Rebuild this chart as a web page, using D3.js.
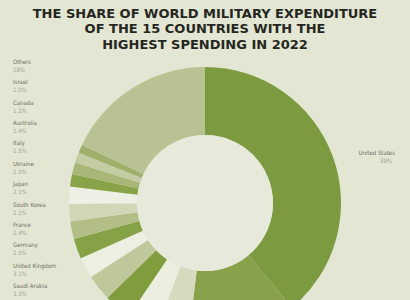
<!DOCTYPE html>
<html>
<head>
<meta charset="utf-8">
<script src="https://cdn.jsdelivr.net/npm/d3@7"></script>
<style>
  body { margin: 0; background: #e3e6d3; }
  svg { display: block; }
</style>
</head>
<body>
<div id="chart"></div>
<script>
// SIPRI 2022 shares, clockwise from 12 o'clock
const countries = ["United States", "China", "Russia", "India", "Saudi Arabia", "United Kingdom",
  "Germany", "France", "South Korea", "Japan", "Ukraine", "Italy", "Australia", "Canada", "Israel", "Others"];
const shares = [39, 13, 3.9, 3.6, 3.3, 3.1, 2.5, 2.4, 2.1, 2.1, 2.0, 1.5, 1.4, 1.2, 1.0, 18];
const shareLabels = ["39%", "13%", "3.9%", "3.6%", "3.3%", "3.1%", "2.5%", "2.4%", "2.1%", "2.1%",
  "2.0%", "1.5%", "1.4%", "1.2%", "1.0%", "18%"];
// labels listed down the left side, top to bottom
const leftLabels = ["Others", "Israel", "Canada", "Australia", "Italy", "Ukraine", "Japan",
  "South Korea", "France", "Germany", "United Kingdom", "Saudi Arabia"];
const titleLines = ["THE SHARE OF WORLD MILITARY EXPENDITURE", "OF THE 15 COUNTRIES WITH THE", "HIGHEST SPENDING IN 2022"];

const width = 410, height = 300;
const cx = 205, cy = 203;
const outerR = 136, innerR = 68;

const svg = d3.select("#chart").append("svg")
  .attr("width", width)
  .attr("height", height);

svg.append("rect").attr("width", width).attr("height", height).attr("fill", "#e3e6d3");

// title
svg.append("g").selectAll("text")
  .data(titleLines)
  .join("text")
  .attr("x", width / 2)
  .attr("y", (d, i) => 17.5 + i * 15.5)
  .attr("text-anchor", "middle")
  .attr("font-family", "'DejaVu Sans', sans-serif")
  .attr("font-weight", "bold")
  .attr("font-size", "13px")
  .attr("fill", "#262621")
  .text(d => d);

// slice colours
const color = d3.scaleOrdinal()
  .domain(countries)
  .range(["#7c9b40", "#87a24b", "#d6dbbf", "#eceee0", "#7f9d3d", "#bfc89b", "#edefe2", "#86a246",
          "#b3be86", "#d1d7b6", "#eff0e5", "#89a448", "#a8b777", "#c4cca3", "#9eb06a", "#b8c292"]);

const pie = d3.pie().sort(null).value(d => d.share);
const arc = d3.arc().innerRadius(innerR).outerRadius(outerR);

const data = countries.map((c, i) => ({country: c, share: shares[i]}));

const g = svg.append("g").attr("transform", `translate(${cx},${cy})`);

g.selectAll("path")
  .data(pie(data))
  .join("path")
  .attr("d", arc)
  .attr("fill", d => color(d.data.country));

g.append("circle").attr("r", innerR).attr("fill", "#e7e9da");

// right label for the US
const us = svg.append("g").attr("font-family", "'DejaVu Sans Condensed', sans-serif").attr("font-size", "6px");
us.append("text").attr("x", 395).attr("y", 155).attr("text-anchor", "end").attr("fill", "#6e6e64").text(countries[0]);
us.append("text").attr("x", 392).attr("y", 163).attr("text-anchor", "end").attr("fill", "#a3a393").text(shareLabels[0]);

// left label column
const y = d3.scalePoint().domain(leftLabels).range([64, 288]);
const left = svg.append("g").attr("font-family", "'DejaVu Sans Condensed', sans-serif").attr("font-size", "6px");
const rows = left.selectAll("g")
  .data(leftLabels)
  .join("g")
  .attr("transform", d => `translate(13, ${y(d)})`);
rows.append("text").attr("fill", "#6e6e64").text(d => d);
rows.append("text").attr("y", 8).attr("fill", "#a3a393").text(d => shareLabels[countries.indexOf(d)]);
</script>
</body>
</html>
